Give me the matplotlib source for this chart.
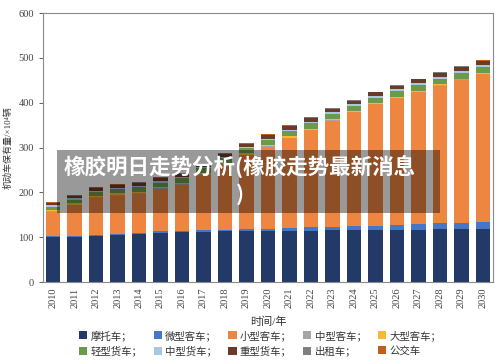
import numpy as np
import matplotlib.pyplot as plt
from matplotlib.patches import Rectangle

plt.rcParams['font.family'] = ['Liberation Serif', 'Noto Sans CJK SC', 'DejaVu Sans']

years = list(range(2010, 2031))
names = ['摩托车', '微型客车', '小型客车', '中型客车', '大型客车',
         '轻型货车', '中型货车', '重型货车', '出租车', '公交车']
colors = ['#233a68', '#4676c6', '#ee8540', '#a5a5a5', '#f5b935',
          '#6a9a4c', '#a9c6e4', '#6b3a28', '#7f7f7f', '#c0601e']

motor = [100, 101, 103, 105, 107, 110, 111, 112, 113, 113, 114,
         115, 115, 116, 116, 116, 117, 117, 118, 118, 119]
micro_bus = [2, 2, 2, 2, 2, 3, 3, 4, 4, 5, 5, 6, 7, 8, 9, 10, 11, 12, 13, 14, 15]
small_car = [54, 68, 82, 86, 88, 94, 103, 122.5, 144, 165, 183,
             200, 216.5, 236, 253.5, 270.5, 282, 294, 307, 319, 330]
mid_bus = [2, 2, 2, 2, 2, 2, 2, 2, 1.5, 1.5, 1.5, 1.5, 1.5, 1.5, 1, 1, 1, 1, 1, 1, 1]
big_bus = [3, 3, 3, 3, 3, 3, 3, 2.5, 2.5, 2.5, 2.5, 2.5, 2.5, 2, 2, 2, 2, 2, 2, 2, 2]
light_truck = [7, 8, 9, 9, 10, 10, 10, 11, 11, 11, 11, 12, 12, 12, 12, 12, 13, 13, 13, 13, 13]
mid_truck = [3, 3, 3, 3, 3, 3, 3, 3, 3, 3, 3, 3, 3.5, 3.5, 3.5, 3.5, 4, 4, 4, 4, 4]
heavy_truck = [5, 6, 6, 6, 7, 7, 7, 7, 7, 7, 8, 8, 8, 8, 8, 8, 8, 9, 9, 9, 9]
taxi = [1, 1, 1, 1, 1, 1, 1, 1, 1, 1, 1, 1, 1, 1, 1, 1, 1, 1, 1, 1, 1]
city_bus = [1, 1, 1, 1, 1, 1, 1, 1, 1, 1, 1, 1, 1, 1, 1, 1, 1, 1, 1, 1, 1]

series = [motor, micro_bus, small_car, mid_bus, big_bus,
          light_truck, mid_truck, heavy_truck, taxi, city_bus]

fig = plt.figure(figsize=(5, 3.64), dpi=100)
ax = fig.add_axes([0.086, 0.225, 0.9, 0.739])

x = np.arange(len(years))
bottom = np.zeros(len(years))
handles = []
for i, vals in enumerate(series):
    h = ax.bar(x, vals, 0.66, bottom=bottom, color=colors[i], linewidth=0,
               label=names[i] + ('；' if i < 9 else ''))
    handles.append(h)
    bottom += np.array(vals)

ax.set_xlim(-0.47, len(years) - 0.53)
ax.set_ylim(0, 600)
ax.set_yticks(range(0, 601, 100))
ax.set_xticks(x)
ax.set_xticklabels([str(y) for y in years], rotation=90)
ax.tick_params(axis='y', labelsize=7.5, colors='#444444', length=3, width=0.6)
ax.tick_params(axis='x', labelsize=7.5, colors='#444444', length=0, pad=4)
for s in ax.spines.values():
    s.set_color('#8a8a8a')
    s.set_linewidth(0.8)

ax.set_ylabel('机动车保有量/×10⁴辆', fontsize=6.5, color='#333333', labelpad=4)
ax.set_xlabel('时间/年', fontsize=8, color='#333333', labelpad=6)

order = [0, 5, 1, 6, 2, 7, 3, 8, 4, 9]
labels = [h.get_label() for h in handles]
fig.legend([handles[k] for k in order], [labels[k] for k in order],
           ncol=5, loc='lower center', bbox_to_anchor=(0.52, -0.005),
           frameon=False, fontsize=7.5, handlelength=0.8, handleheight=0.8,
           handletextpad=0.3, columnspacing=1.1, labelspacing=0.45,
           labelcolor='#333333')

# overlay banner
fig.patches.append(Rectangle((0.114, 0.415), 0.766, 0.173, transform=fig.transFigure,
                             facecolor='black', alpha=0.4, edgecolor='none', zorder=5))
fig.text(0.48, 0.503, '橡胶明日走势分析(橡胶走势最新消息\n)', fontsize=15.5,
         fontweight='bold', color='white', va='center', ha='center',
         multialignment='center', linespacing=1.25,
         family=['Noto Sans CJK SC'], zorder=6)

fig.savefig('out.png', dpi=100)
